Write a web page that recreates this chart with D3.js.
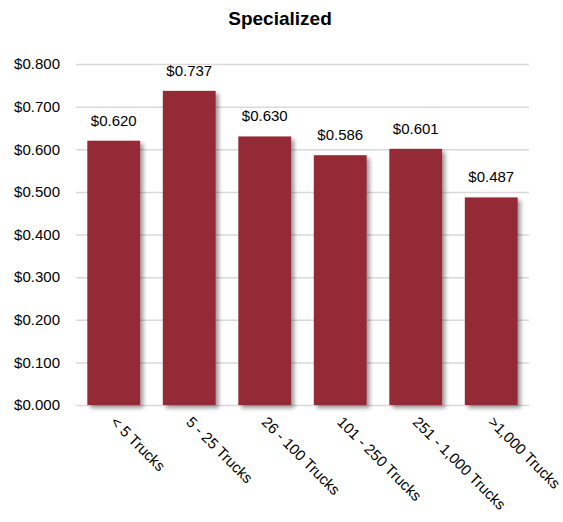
<!DOCTYPE html>
<html>
<head>
<meta charset="utf-8">
<script src="https://cdn.jsdelivr.net/npm/d3@7"></script>
<style>
  body { margin: 0; background: #fff; }
  text { font-family: "Liberation Sans", Arial, sans-serif; }
</style>
</head>
<body>
<div id="chart"></div>
<script>
var categories = ["< 5 Trucks", "5 - 25 Trucks", "26 - 100 Trucks", "101 - 250 Trucks", "251 - 1,000 Trucks", ">1,000 Trucks"];
var values = [0.620, 0.737, 0.630, 0.586, 0.601, 0.487];
var yTicks = [0, 0.1, 0.2, 0.3, 0.4, 0.5, 0.6, 0.7, 0.8];

var W = 563, H = 522;
var margin = {top: 64, right: 34, bottom: 117, left: 76};

var svg = d3.select("#chart")
    .append("svg")
    .attr("width", W)
    .attr("height", H);

// soft shadow like the original
var filter = svg.append("defs").append("filter")
    .attr("id", "shadow")
    .attr("x", "-20%").attr("y", "-20%")
    .attr("width", "150%").attr("height", "150%");
filter.append("feDropShadow")
    .attr("dx", 3).attr("dy", 3)
    .attr("stdDeviation", 2)
    .attr("flood-color", "#000")
    .attr("flood-opacity", 0.4);

var x = d3.scaleBand()
    .domain(categories)
    .range([margin.left, W - margin.right])
    .paddingInner(0.3)
    .paddingOuter(0.15);

var y = d3.scaleLinear()
    .domain([0, 0.8])
    .range([H - margin.bottom, margin.top]);

// title
svg.append("text")
    .attr("x", 280)
    .attr("y", 25)
    .attr("text-anchor", "middle")
    .attr("font-size", "19px")
    .attr("font-weight", "bold")
    .text("Specialized");

// gridlines + y labels
var yAxis = d3.axisLeft(y)
    .tickValues(yTicks)
    .tickFormat(function(d){ return "$" + d.toFixed(3); })
    .tickSize(-(W - margin.right - margin.left))
    .tickPadding(16);

var gy = svg.append("g")
    .attr("transform", "translate(" + margin.left + ",0)")
    .call(yAxis);
gy.select(".domain").remove();
gy.selectAll(".tick line")
    .attr("stroke", "#d9d9d9")
    .attr("stroke-width", 1.5);
gy.selectAll(".tick text")
    .attr("font-size", "15px")
    .attr("fill", "#000");

// bars
svg.append("g").selectAll("rect")
    .data(values)
    .enter().append("rect")
    .attr("x", function(d, i){ return x(categories[i]); })
    .attr("y", function(d){ return y(d); })
    .attr("width", x.bandwidth())
    .attr("height", function(d){ return y(0) - y(d); })
    .attr("fill", "#932a35")
    .attr("filter", "url(#shadow)");

// value labels
svg.append("g").selectAll("text")
    .data(values)
    .enter().append("text")
    .attr("x", function(d, i){ return x(categories[i]) + x.bandwidth() / 2; })
    .attr("y", function(d){ return y(d) - 15; })
    .attr("text-anchor", "middle")
    .attr("font-size", "15px")
    .text(function(d){ return "$" + d.toFixed(3); });

// rotated category labels
svg.append("g").selectAll("text")
    .data(categories)
    .enter().append("text")
    .attr("transform", function(d){
        return "translate(" + (x(d) + x.bandwidth() / 2 - 4) + "," + (y(0) + 18) + ") rotate(45)";
    })
    .attr("text-anchor", "start")
    .attr("font-size", "15px")
    .text(function(d){ return d; });
</script>
</body>
</html>
